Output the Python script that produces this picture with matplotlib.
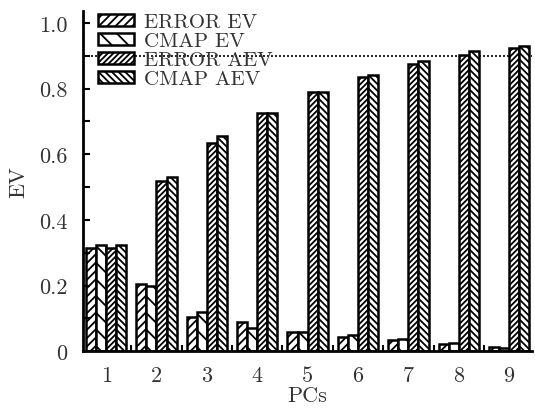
import numpy as np
import matplotlib.pyplot as plt
from matplotlib.ticker import MultipleLocator, FixedLocator

plt.rcParams['font.family'] = ['cmr10', 'DejaVu Serif']
plt.rcParams['axes.formatter.use_mathtext'] = True
plt.rcParams['hatch.linewidth'] = 1.3

pcs = [1, 2, 3, 4, 5, 6, 7, 8, 9]
error_ev = [0.315, 0.205, 0.105, 0.090, 0.058, 0.044, 0.034, 0.021, 0.013]
cmap_ev = [0.325, 0.200, 0.120, 0.070, 0.058, 0.049, 0.037, 0.024, 0.010]
error_aev = [0.315, 0.520, 0.635, 0.725, 0.790, 0.836, 0.876, 0.902, 0.923]
cmap_aev = [0.325, 0.530, 0.655, 0.725, 0.790, 0.842, 0.883, 0.914, 0.931]
series = [("ERROR EV", error_ev, '////'),
          ("CMAP EV", cmap_ev, '\\\\'),
          ("ERROR AEV", error_aev, '//////'),
          ("CMAP AEV", cmap_aev, '\\\\\\\\\\')]
threshold = 0.9


def main():
    fig = plt.figure(figsize=(5.35, 4.10), dpi=100)
    ax = fig.add_axes([0.155, 0.141, 0.84, 0.83])

    x = np.array(pcs, dtype=float)
    w = 0.2
    for i, (name, vals, hatch) in enumerate(series):
        ax.bar(x + (i - 1.5) * w, vals, w, facecolor='white', edgecolor='black',
               linewidth=1.8, hatch=hatch, label=name)

    ax.axhline(threshold, color='black', linestyle=(0, (1.2, 1.2)), linewidth=1.2, zorder=0.5)

    ax.set_xlim(0.54, 9.46)
    ax.set_ylim(0, 1.037)
    ax.spines['top'].set_visible(False)
    ax.spines['right'].set_visible(False)
    ax.spines['left'].set_linewidth(2)
    ax.spines['bottom'].set_linewidth(2)

    ax.set_xticks(pcs)
    ax.set_xticklabels([str(p) for p in pcs])
    ax.xaxis.set_minor_locator(FixedLocator(np.arange(1.5, 10, 1.0)))
    ax.tick_params(axis='x', which='major', length=0, pad=10, labelsize=16, labelcolor='#333333')
    ax.tick_params(axis='x', which='minor', direction='in', length=4, width=1.5)

    yt = [0, 0.2, 0.4, 0.6, 0.8, 1.0]
    ax.set_yticks(yt)
    ax.set_yticklabels(['0', '0.2', '0.4', '0.6', '0.8', '1.0'])
    ax.yaxis.set_minor_locator(MultipleLocator(0.1))
    ax.tick_params(axis='y', which='both', direction='in', length=5, width=1.5, labelsize=16,
                   pad=11, labelcolor='#333333')

    ax.set_xlabel('PCs', fontsize=16, labelpad=1, color='#333333')
    ax.set_ylabel('EV', fontsize=16, labelpad=8, color='#333333')

    leg = ax.legend(loc='upper left', frameon=False, fontsize=15, handlelength=1.75, handleheight=0.5,
                    labelspacing=0.05, handletextpad=0.5, borderaxespad=0.3,
                    bbox_to_anchor=(0.0, 1.035))
    for t in leg.get_texts():
        t.set_color('#333333')

    fig.savefig('out.png', dpi=100)


if __name__ == "__main__":
    main()
